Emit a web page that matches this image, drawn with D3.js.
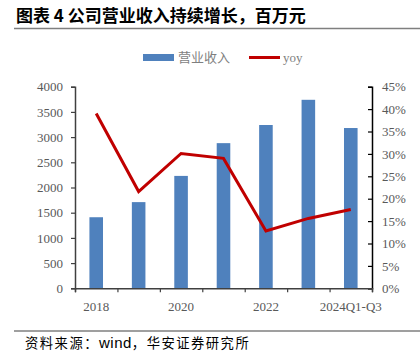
<!DOCTYPE html>
<html><head><meta charset="utf-8">
<script src="https://cdn.jsdelivr.net/npm/d3@7"></script>
<style>body{margin:0;background:#fff;}svg{display:block;}</style>
</head><body>
<script>
const categories = ["2018","2019","2020","2021","2022","2023","2024Q1-Q3"];
const revenue = [1410, 1710, 2230, 2880, 3240, 3740, 3180];
const yoy = [39.0, 21.6, 30.1, 29.0, 12.8, 15.6, 17.6];
const leftTicks = [0,500,1000,1500,2000,2500,3000,3500,4000];
const rightTicks = [0,5,10,15,20,25,30,35,40,45];
const xLabels = ["2018","2020","2022","2024Q1-Q3"];

(function(){
const W = 420, H = 351;
const svg = d3.select("body").append("svg").attr("width", W).attr("height", H);
const serif = "'Liberation Serif','Times New Roman',serif";
const cjk = "'Noto Sans CJK SC',sans-serif";

// Title
svg.append("text").attr("x", 16).attr("y", 21.5).attr("font-size", 17).attr("font-weight", "bold")
  .attr("font-family", cjk).attr("fill", "#000")
  .text("图表 4 公司营业收入持续增长，百万元");
svg.append("line").attr("x1", 14).attr("x2", 420).attr("y1", 28.5).attr("y2", 28.5)
  .attr("stroke", "#7f7f7f").attr("stroke-width", 1.5);

// Footer
svg.append("line").attr("x1", 14).attr("x2", 420).attr("y1", 331).attr("y2", 331)
  .attr("stroke", "#7f7f7f").attr("stroke-width", 1.5);
const ft = svg.append("text").attr("x", 25).attr("y", 347.5).attr("font-size", 13.3)
  .attr("font-family", cjk).attr("fill", "#000").attr("letter-spacing", 1.5);
ft.append("tspan").text("资料来源：");
ft.append("tspan").attr("font-family", "'Liberation Sans',Arial,sans-serif").attr("font-size", 15)
  .attr("letter-spacing", 0.5).text("wind");
ft.append("tspan").text("，华安证券研究所");

const pL = 75, pR = 372, pT = 86.7, pB = 288.3;
const x = d3.scaleBand().domain(categories).range([pL, pR]).paddingInner(0.68).paddingOuter(0.34);
const yL = d3.scaleLinear().domain([0, 4000]).range([pB, pT]);
const yR = d3.scaleLinear().domain([0, 45]).range([pB, pT]);

// Bars
svg.append("g").selectAll("rect").data(categories).join("rect")
  .attr("x", d => x(d)).attr("width", x.bandwidth())
  .attr("y", (d, i) => yL(revenue[i])).attr("height", (d, i) => pB - yL(revenue[i]))
  .attr("fill", "#4F81BD");

// Left axis
const gL = svg.append("g").attr("transform", `translate(${pL},0)`)
  .call(d3.axisLeft(yL).tickValues(leftTicks).tickSize(4).tickPadding(8).tickFormat(d3.format("d")));
// Right axis (ticks inward)
const gR = svg.append("g").attr("transform", `translate(${pR},0)`)
  .call(d3.axisLeft(yR).tickValues(rightTicks).tickSize(4).tickFormat(d => d + "%"));
gR.selectAll("text").attr("text-anchor", "start").attr("x", 10);
// Bottom axis with boundary ticks
const xB = d3.scaleLinear().domain([0, categories.length]).range([pL, pR]);
const gB = svg.append("g").attr("transform", `translate(0,${pB})`)
  .call(d3.axisBottom(xB).tickValues(d3.range(categories.length + 1)).tickSize(4).tickFormat(""));
svg.append("g").selectAll("text").data(xLabels).join("text")
  .attr("x", d => x(d) + x.bandwidth() / 2).attr("y", 310.5).attr("text-anchor", "middle")
  .attr("font-family", serif).attr("font-size", 13).attr("fill", "#595959").text(d => d);

[gL, gR, gB].forEach(g => {
  g.select(".domain").attr("stroke", "#404040").attr("stroke-width", 1.5);
  g.selectAll(".tick line").attr("stroke", "#404040").attr("stroke-width", 1.2);
  g.selectAll("text").attr("font-family", serif).attr("font-size", 13).attr("fill", "#595959");
});
gR.select(".domain").attr("stroke", "#000");
gR.selectAll(".tick line").attr("stroke", "#000");

// Line
const line = d3.line().x((d, i) => x(categories[i]) + x.bandwidth() / 2).y(d => yR(d));
svg.append("path").datum(yoy).attr("d", line).attr("fill", "none")
  .attr("stroke", "#C00000").attr("stroke-width", 3).attr("stroke-linejoin", "miter");

// Legend
const lg = svg.append("g");
lg.append("rect").attr("x", 143).attr("y", 54).attr("width", 31).attr("height", 7).attr("fill", "#4F81BD");
lg.append("text").attr("x", 178).attr("y", 62).attr("font-size", 13).attr("font-family", cjk)
  .attr("fill", "#7f7f7f").text("营业收入");
lg.append("line").attr("x1", 249).attr("x2", 280).attr("y1", 57.5).attr("y2", 57.5)
  .attr("stroke", "#C00000").attr("stroke-width", 3);
lg.append("text").attr("x", 283).attr("y", 62).attr("font-size", 13).attr("font-family", serif)
  .attr("fill", "#7f7f7f").text("yoy");
})();
</script>
</body></html>
